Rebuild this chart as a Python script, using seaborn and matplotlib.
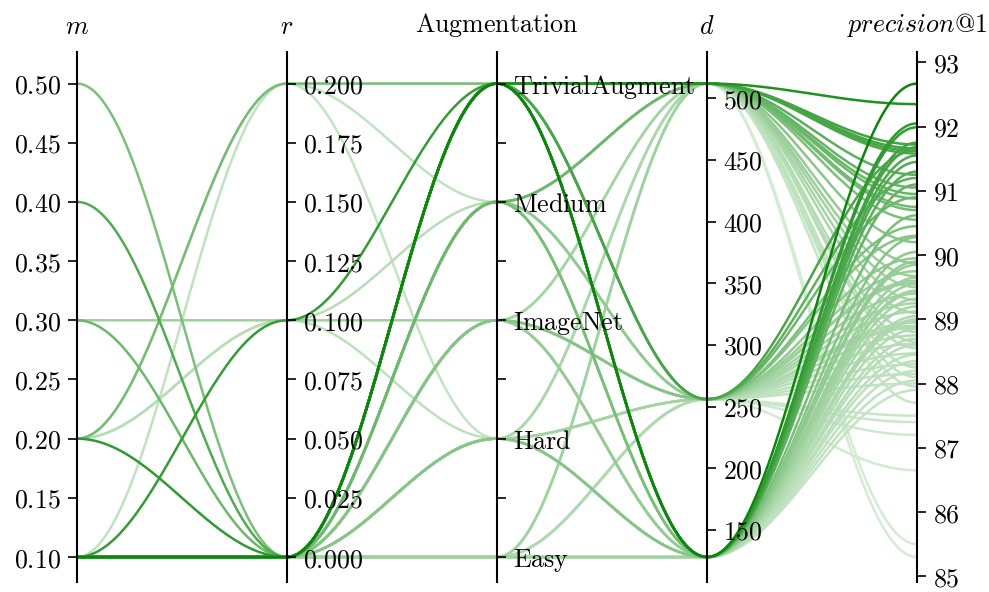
import numpy as np
import pandas as pd
import matplotlib
matplotlib.use("Agg")
import matplotlib.pyplot as plt
import matplotlib.colors as mcolors
from matplotlib.ticker import MultipleLocator, FuncFormatter, FixedLocator, FixedFormatter
import seaborn as sns

# ---- data -----------------------------------------------------------------
axis_titles = [r"$m$", r"$r$", r"$\mathrm{Augmentation}$", r"$d$", r"$precision\mathrm{@1}$"]
aug_levels = ["Easy", "Hard", "ImageNet", "Medium", "TrivialAugment"]

m_vals = [
    0.5, 0.4, 0.3, 0.3, 0.2, 0.2, 0.2, 0.1, 0.1, 0.2, 0.2,
    0.1, 0.1, 0.1, 0.1, 0.1, 0.1, 0.1, 0.1, 0.1,
    0.1, 0.1, 0.1,
    0.1, 0.1, 0.1, 0.1, 0.1, 0.1,
    0.1, 0.1, 0.1, 0.1,
    0.1, 0.1, 0.1,
    0.1, 0.1, 0.1, 0.1,
    0.1, 0.1, 0.1,
    0.1, 0.1, 0.1, 0.1, 0.1,
    0.1, 0.1, 0.1, 0.1, 0.1,
    0.1, 0.1, 0.1, 0.1,
    0.1, 0.1, 0.1, 0.1,
    0.1, 0.1, 0.1, 0.1, 0.1, 0.1,
    0.1, 0.1, 0.1, 0.1,
    0.1, 0.1, 0.1, 0.1, 0.1, 0.1,
    0.1, 0.1, 0.1, 0.1, 0.1, 0.1,
]
r_vals = [
    0.0, 0.0, 0.1, 0.0, 0.2, 0.1, 0.0, 0.1, 0.2, 0.2, 0.1,
    0.0, 0.0, 0.0, 0.0, 0.0, 0.0, 0.0, 0.0, 0.0,
    0.0, 0.0, 0.0,
    0.0, 0.0, 0.0, 0.0, 0.0, 0.0,
    0.0, 0.0, 0.0, 0.0,
    0.0, 0.0, 0.0,
    0.0, 0.0, 0.0, 0.0,
    0.0, 0.0, 0.0,
    0.0, 0.0, 0.0, 0.0, 0.0,
    0.0, 0.0, 0.0, 0.0, 0.0,
    0.0, 0.0, 0.0, 0.0,
    0.0, 0.0, 0.0, 0.0,
    0.0, 0.0, 0.0, 0.0, 0.0, 0.0,
    0.0, 0.0, 0.0, 0.0,
    0.0, 0.0, 0.0, 0.0, 0.0, 0.0,
    0.0, 0.0, 0.0, 0.0, 0.0, 0.0,
]
aug_vals = [
    "TrivialAugment", "TrivialAugment", "ImageNet", "TrivialAugment", "TrivialAugment",
    "Hard", "TrivialAugment", "TrivialAugment", "Medium", "Hard", "Medium",
    "TrivialAugment", "TrivialAugment", "TrivialAugment", "TrivialAugment", "TrivialAugment",
    "TrivialAugment", "TrivialAugment", "TrivialAugment", "TrivialAugment",
    "TrivialAugment", "TrivialAugment", "TrivialAugment",
    "TrivialAugment", "TrivialAugment", "TrivialAugment", "TrivialAugment", "TrivialAugment",
    "TrivialAugment",
    "Medium", "Medium", "Medium", "Medium",
    "Medium", "Medium", "Medium",
    "Medium", "Medium", "Medium", "Medium",
    "ImageNet", "ImageNet", "ImageNet",
    "ImageNet", "ImageNet", "ImageNet", "ImageNet", "ImageNet",
    "ImageNet", "ImageNet", "ImageNet", "ImageNet", "ImageNet",
    "Hard", "Hard", "Hard", "Hard",
    "Hard", "Hard", "Hard", "Hard",
    "Hard", "Hard", "Hard", "Hard", "Hard", "Hard",
    "Easy", "Easy", "Easy", "Easy",
    "Easy", "Easy", "Easy", "Easy", "Easy", "Easy",
    "Easy", "Easy", "Easy", "Easy", "Easy", "Easy",
]
d_vals = [
    512, 128, 256, 256, 512, 256, 128, 128, 512, 128, 256,
    512, 512, 512, 512, 512, 512, 512, 512, 512,
    256, 256, 256,
    128, 128, 128, 128, 128, 128,
    512, 512, 512, 512,
    256, 256, 256,
    128, 128, 128, 128,
    512, 512, 512,
    256, 256, 256, 256, 256,
    128, 128, 128, 128, 128,
    512, 512, 512, 512,
    256, 256, 256, 256,
    128, 128, 128, 128, 128, 128,
    512, 512, 512, 512,
    256, 256, 256, 256, 256, 256,
    128, 128, 128, 128, 128, 128,
]
prec_vals = [
    90.55, 91.45, 89.60, 90.90, 90.70, 88.30, 92.05, 91.99, 88.10, 87.90, 88.62,
    92.35, 91.72, 91.66, 91.62, 91.58, 91.25, 90.95, 90.75, 91.05,
    91.63, 91.20, 90.45,
    92.67, 91.75, 91.68, 91.55, 91.30, 91.10,
    90.88, 90.20, 89.87, 89.67,
    89.95, 89.12, 89.57,
    90.62, 89.90, 90.05, 89.45,
    89.30, 88.55, 88.25,
    90.30, 89.75, 88.90, 89.25, 88.75,
    89.42, 88.70, 88.20, 89.85, 88.97,
    89.10, 87.70, 85.50, 88.65,
    89.40, 88.15, 87.50, 88.87,
    90.28, 89.65, 89.00, 88.45, 89.32, 88.60,
    88.80, 85.30, 89.50, 87.95,
    88.95, 88.00, 87.40, 87.20, 86.65, 88.47,
    89.20, 88.85, 88.35, 88.05, 89.55, 89.05,
]

# ---- normalise every column to [0, 1] --------------------------------------
aug_codes = np.array([aug_levels.index(a) for a in aug_vals], dtype=float)
columns = [np.array(m_vals, float), np.array(r_vals, float), aug_codes,
           np.array(d_vals, float), np.array(prec_vals, float)]
ranges = [(c.min(), c.max()) for c in columns]
ranges[2] = (0.0, float(len(aug_levels) - 1))
norm_cols = np.column_stack([(c - lo) / (hi - lo) for c, (lo, hi) in zip(columns, ranges)])

PAD_LO, PAD_HI = 0.0527, 0.0666

# smooth (cosine-eased) connection between neighbouring axes
t = np.linspace(0.0, 1.0, 60)
ease = (1.0 - np.cos(np.pi * t)) / 2.0
frames = []
for i, row in enumerate(norm_cols):
    xs, ys = [], []
    for k in range(len(row) - 1):
        tt, ee = (t, ease) if k == 0 else (t[1:], ease[1:])
        xs.append(k + tt)
        ys.append(row[k] + (row[k + 1] - row[k]) * ee)
    frames.append(pd.DataFrame({"x": np.concatenate(xs), "y": np.concatenate(ys),
                                "run": i, "prec": prec_vals[i]}))
lines = pd.concat(frames, ignore_index=True)

# ---- style --------------------------------------------------------------------
sns.set_style("white")
plt.rcParams["mathtext.fontset"] = "cm"
plt.rcParams["font.family"] = ["DejaVu Serif"]
plt.rcParams["text.color"] = "black"
plt.rcParams["ytick.color"] = "black"
plt.rcParams["ytick.labelcolor"] = "black"
FS = 18.7

cmap = mcolors.LinearSegmentedColormap.from_list("green_ramp", ["#d4ecd4", "#0a870a"])
hue_norm = mcolors.PowerNorm(gamma=2.4, vmin=min(prec_vals), vmax=max(prec_vals))

fig = plt.figure(figsize=(9.89, 5.92), dpi=100)
rect = [77 / 989, 10 / 592, 840 / 989, 530 / 592]

canvas = fig.add_axes(rect, label="lines")
sns.lineplot(data=lines, x="x", y="y", units="run", estimator=None, hue="prec",
             palette=cmap, hue_norm=hue_norm, legend=False, sort=False,
             linewidth=1.8, ax=canvas)
canvas.set_xlim(0, 4)
canvas.set_ylim(-PAD_LO, 1 + PAD_HI)
canvas.axis("off")

fmt = [lambda v, _: f"${v:.2f}$", lambda v, _: f"${v:.3f}$", None,
       lambda v, _: f"${v:.0f}$", lambda v, _: f"${v:.0f}$"]
steps = [0.05, 0.025, None, 50, 1]

for i, (lo, hi) in enumerate(ranges):
    ax = fig.add_axes(rect, label=f"axis{i}", facecolor="none")
    span = hi - lo
    ax.set_xlim(0, 4)
    ax.set_ylim(lo - PAD_LO * span, hi + PAD_HI * span)
    ax.xaxis.set_visible(False)
    for s in ("top", "bottom", "left", "right"):
        ax.spines[s].set_visible(False)
    side = "left" if i == 0 else "right"
    sp = ax.spines[side]
    sp.set_visible(True)
    sp.set_linewidth(1.5)
    sp.set_color("black")
    if i > 0:
        sp.set_position(("axes", i / 4))
        ax.yaxis.tick_right()
    else:
        ax.yaxis.tick_left()
    ax.tick_params(axis="y", direction="out", length=6.5, width=1.2,
                   color="black", labelcolor="black", labelsize=FS, pad=5)
    if i == 2:
        ax.yaxis.set_major_locator(FixedLocator(np.arange(0, 4.01, 0.5)))
        ax.yaxis.set_major_formatter(FixedFormatter(
            [rf"$\mathrm{{{aug_levels[int(v)]}}}$" if v == int(v) else ""
             for v in np.arange(0, 4.01, 0.5)]))
    else:
        ax.yaxis.set_major_locator(MultipleLocator(steps[i]))
        ax.yaxis.set_major_formatter(FuncFormatter(fmt[i]))
    ax.text(i / 4, 1 + 13 / 530, axis_titles[i], transform=ax.transAxes,
            ha="center", va="bottom", fontsize=FS, color="black")

fig.savefig("out.png", dpi=100)
